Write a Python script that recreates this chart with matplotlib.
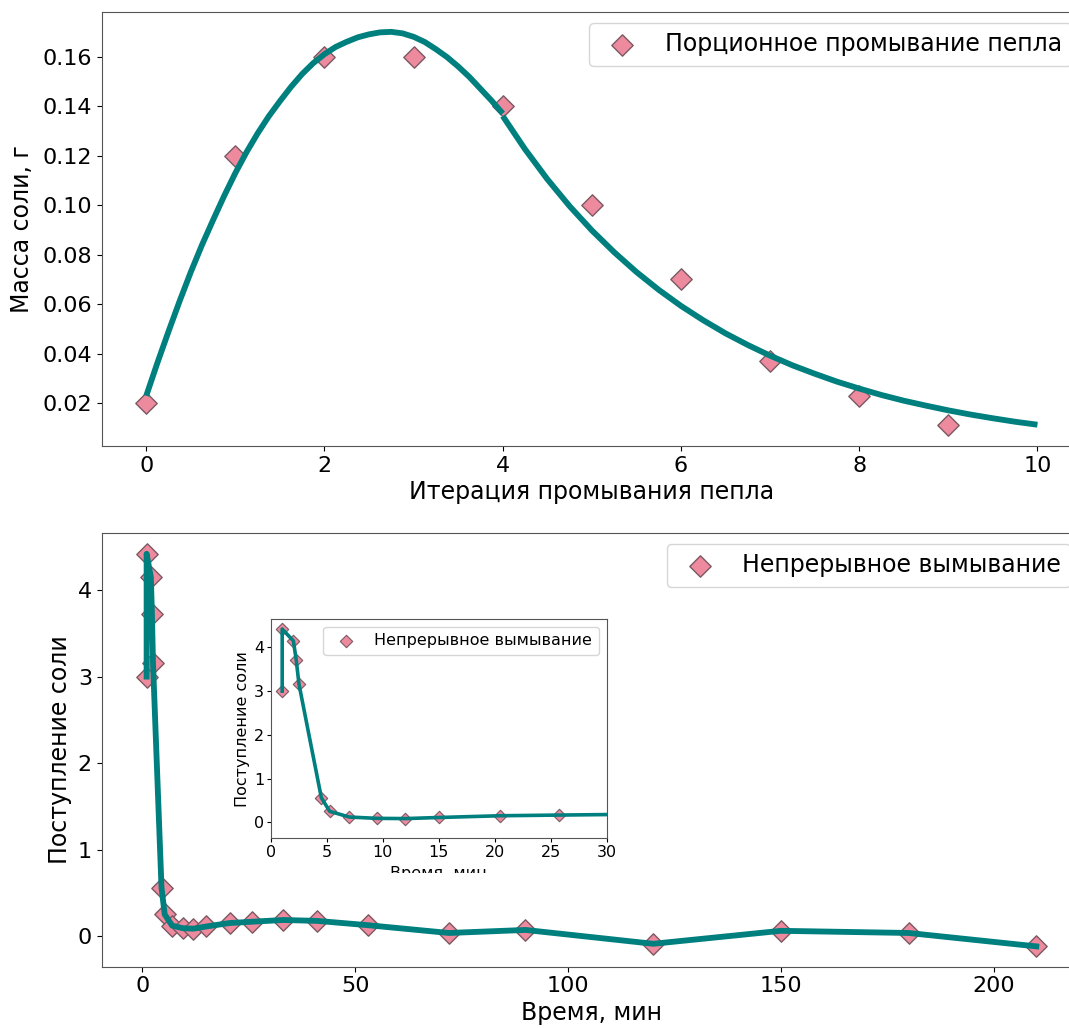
import matplotlib
matplotlib.use("Agg")
import matplotlib.pyplot as plt
from matplotlib.transforms import Bbox, TransformedBbox

# ---- top chart data ----
iter_x = [0, 1, 2, 3, 4, 5, 6, 7, 8, 9]
mass_y = [0.020, 0.120, 0.160, 0.160, 0.140, 0.100, 0.070, 0.037, 0.023, 0.011]

# fitted curve: rising part (0..4) and decaying part (4..10)
fit1_x = [0, 0.125, 0.25, 0.375, 0.5, 0.625, 0.75, 0.875, 1, 1.125, 1.25, 1.375, 1.5,
          1.625, 1.75, 1.875, 2, 2.125, 2.25, 2.375, 2.5, 2.625, 2.75, 2.875, 3,
          3.125, 3.25, 3.375, 3.5, 3.625, 3.75, 3.875, 4]
fit1_y = [0.023, 0.0363, 0.049, 0.0613, 0.073, 0.0839, 0.094, 0.1038, 0.113, 0.1214,
          0.129, 0.1359, 0.142, 0.1478, 0.153, 0.1574, 0.161, 0.1639, 0.166, 0.1678,
          0.169, 0.1698, 0.170, 0.1694, 0.168, 0.1659, 0.163, 0.1598, 0.156, 0.1518,
          0.147, 0.1422, 0.137]
fit2_x = [4, 4.25, 4.5, 4.75, 5, 5.25, 5.5, 5.75, 6, 6.25, 6.5, 6.75, 7, 7.25, 7.5,
          7.75, 8, 8.25, 8.5, 8.75, 9, 9.25, 9.5, 9.75, 10]
fit2_y = [0.136, 0.1226, 0.1105, 0.0996, 0.0898, 0.0810, 0.0730, 0.0658, 0.0593,
          0.0535, 0.0482, 0.0435, 0.0392, 0.0353, 0.0319, 0.0287, 0.0259, 0.0233,
          0.0210, 0.0190, 0.0171, 0.0154, 0.0139, 0.0125, 0.0113]

# ---- bottom chart data ----
time_x = [1, 1, 2, 2.25, 2.5, 4.5, 5.25, 7, 9.5, 12, 15, 20.5, 25.7, 33, 41, 53, 72,
          90, 120, 150, 180, 210]
salt_y = [3.0, 4.42, 4.15, 3.72, 3.16, 0.56, 0.25, 0.12, 0.09, 0.085, 0.11, 0.15,
          0.165, 0.185, 0.175, 0.125, 0.035, 0.07, -0.09, 0.06, 0.035, -0.12]

label_top = "Порционное промывание пепла"
label_bot = "Непрерывное вымывание"

TEAL = "#007f7f"
PINK = "#ee8a9e"
EDGE = "#7a5a63"

W, H = 1069, 1028
fig = plt.figure(figsize=(W / 100, H / 100), dpi=100)

def fx(px):
    return px / W

def fy(py):
    return 1 - py / H

# top axes
ax1 = fig.add_axes([fx(101.7), fy(446), fx(1082) - fx(101.7), fy(12.3) - fy(446)])
ax1.plot(fit1_x, fit1_y, color=TEAL, lw=4.2, solid_capstyle="butt", zorder=3)
ax1.plot(fit2_x, fit2_y, color=TEAL, lw=4.2, solid_capstyle="butt", zorder=3)
ax1.scatter(iter_x, mass_y, marker="D", s=118, color=PINK, edgecolor=EDGE,
            linewidths=1.0, zorder=2, label=label_top)
ax1.set_xlim(-0.5, 10.5)
ax1.set_ylim(0.0027, 0.1779)
ax1.set_xticks([0, 2, 4, 6, 8, 10])
ax1.set_yticks([0.02, 0.04, 0.06, 0.08, 0.10, 0.12, 0.14, 0.16])
ax1.set_yticklabels(["0.02", "0.04", "0.06", "0.08", "0.10", "0.12", "0.14", "0.16"])
ax1.tick_params(labelsize=16)
ax1.set_xlabel("Итерация промывания пепла", fontsize=17, labelpad=3)
ax1.set_ylabel("Масса соли, г", fontsize=17, labelpad=6)
ax1.legend(loc="upper right", fontsize=17, borderaxespad=0.45)

# bottom axes
ax2 = fig.add_axes([fx(101.7), fy(966.7), fx(1081) - fx(101.7), fy(533.3) - fy(966.7)])
ax2.plot(time_x, salt_y, color=TEAL, lw=4.2, zorder=3)
ax2.scatter(time_x, salt_y, marker="D", s=118, color=PINK, edgecolor=EDGE,
            linewidths=1.0, zorder=2, label=label_bot)
ax2.set_xlim(-9.55, 220.5)
ax2.set_ylim(-0.355, 4.657)
ax2.set_xticks([0, 50, 100, 150, 200])
ax2.set_yticks([0, 1, 2, 3, 4])
ax2.tick_params(labelsize=16)
ax2.set_xlabel("Время, мин", fontsize=17, labelpad=3)
ax2.set_ylabel("Поступление соли", fontsize=17, labelpad=4)
ax2.legend(loc="upper right", fontsize=17, borderaxespad=0.45)

# inset axes
ax3 = fig.add_axes([fx(271), fy(838.3), fx(606.7) - fx(271), fy(619) - fy(838.3)])
ax3.plot(time_x, salt_y, color=TEAL, lw=2.6, zorder=3)
ax3.scatter(time_x, salt_y, marker="D", s=40, color=PINK, edgecolor=EDGE,
            linewidths=0.8, zorder=2, label=label_bot)
ax3.set_xlim(0, 30)
ax3.set_ylim(-0.366, 4.65)
ax3.set_xticks([0, 5, 10, 15, 20, 25, 30])
ax3.set_yticks([0, 1, 2, 3, 4])
ax3.tick_params(labelsize=11.5, length=3, pad=2)
xl = ax3.set_xlabel("Время, мин", fontsize=11.5, labelpad=4)
ax3.set_ylabel("Поступление соли", fontsize=11.5, labelpad=3)
ax3.legend(loc="upper right", fontsize=11.5)
clip = TransformedBbox(Bbox([[0, fy(873)], [1, 1]]), fig.transFigure)
xl.set_clip_box(clip)
xl.set_clip_on(True)

for ax in (ax1, ax2, ax3):
    for sp in ax.spines.values():
        sp.set_color("#555555")

fig.savefig("out.png", dpi=100)
